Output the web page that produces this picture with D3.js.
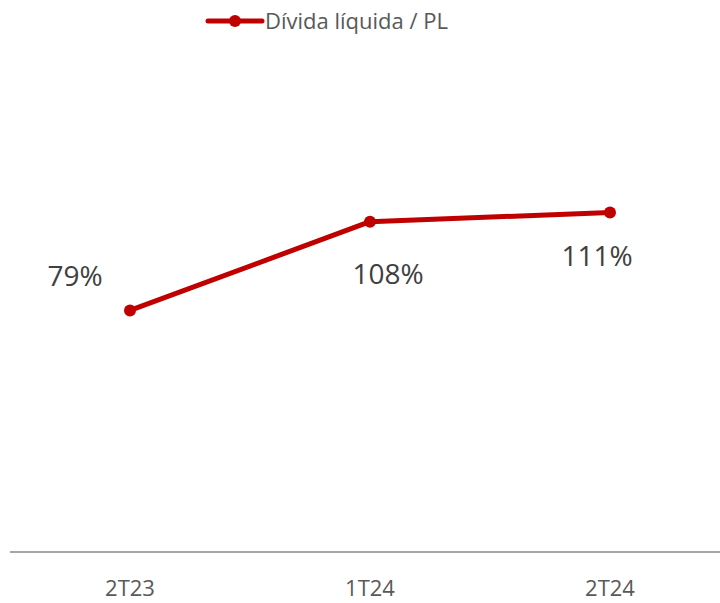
<!DOCTYPE html>
<html><head><meta charset="utf-8">
<script src="https://cdn.jsdelivr.net/npm/d3@7"></script>
<style>html,body{margin:0;padding:0;background:#fff;}svg{display:block;}</style>
</head><body>
<svg id="chart" width="720" height="603"></svg>
<script>
const categories = ["2T23", "1T24", "2T24"];
const values = [79, 108, 111];
const valueLabels = ["79%", "108%", "111%"];
const seriesName = "Dívida líquida / PL";

const W = 720, H = 603;
const color = "#C00000", textColor = "#595959";
const font = "'Open Sans', sans-serif";
const svg = d3.select("#chart");

const x = d3.scaleBand().domain(categories).range([10, 730]);
const y = d3.scaleLinear().domain([0, 120]).range([552, 185]);
const cx = d => x(d) + x.bandwidth() / 2;

// axis line
svg.append("line").attr("x1", 10).attr("x2", 720).attr("y1", y(0)).attr("y2", y(0))
  .attr("stroke", "#a6a6a6").attr("stroke-width", 2);

// category labels
const xAxis = d3.axisBottom(x).tickSize(0).tickPadding(0);
const gx = svg.append("g").attr("transform", `translate(0,${y(0)})`).call(xAxis);
gx.select(".domain").remove();
gx.selectAll("text").attr("font-family", font).attr("font-size", 22)
  .attr("fill", textColor).attr("dy", null).attr("y", 44);

const pts = categories.map((c, i) => [cx(c), y(values[i])]);
svg.append("path").datum(pts).attr("d", d3.line())
  .attr("fill", "none").attr("stroke", color).attr("stroke-width", 5)
  .attr("stroke-linejoin", "round");
svg.selectAll("circle.pt").data(pts).join("circle").attr("class", "pt")
  .attr("cx", d => d[0]).attr("cy", d => d[1]).attr("r", 6).attr("fill", color);

// data labels (placement offsets as in reference)
const labelOffsets = [[-55, -24], [18, 62], [-13, 53]];
svg.selectAll("text.lbl").data(pts).join("text").attr("class", "lbl")
  .attr("x", (d, i) => d[0] + labelOffsets[i][0])
  .attr("y", (d, i) => d[1] + labelOffsets[i][1])
  .attr("text-anchor", "middle").attr("font-family", font).attr("font-size", 28)
  .attr("fill", "#404040").text((d, i) => valueLabels[i]);

// legend
const lg = svg.append("g");
lg.append("line").attr("x1", 208).attr("x2", 262).attr("y1", 21).attr("y2", 21)
  .attr("stroke", color).attr("stroke-width", 5).attr("stroke-linecap", "round");
lg.append("circle").attr("cx", 235).attr("cy", 21).attr("r", 6).attr("fill", color);
lg.append("text").attr("x", 265).attr("y", 29).attr("font-family", font)
  .attr("font-size", 22).attr("fill", textColor).text(seriesName);
</script>
</body></html>
